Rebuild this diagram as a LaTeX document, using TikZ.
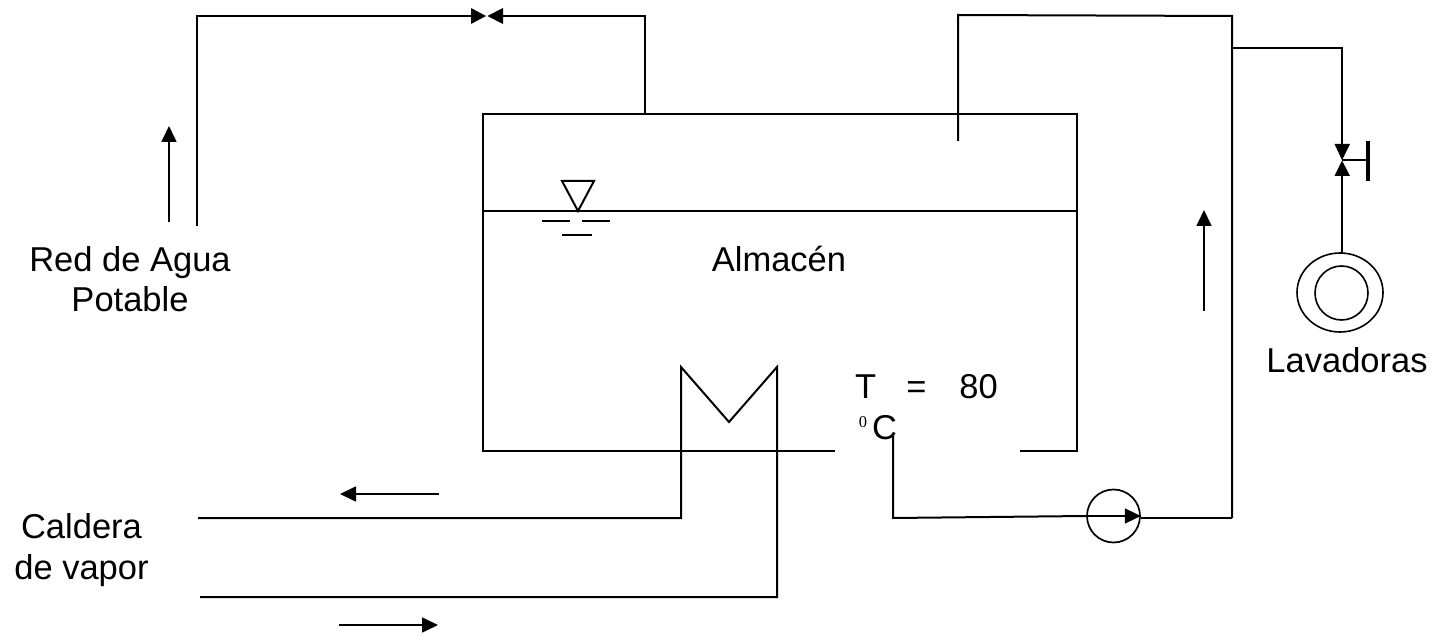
\documentclass[tikz,border=0pt]{standalone}
\usepackage{fontspec}
\setmainfont{Liberation Sans}
\newfontfamily\serifzero{Liberation Serif}
\usetikzlibrary{arrows.meta}
\tikzset{
  pipe/.style={draw=black,line width=2pt,line join=miter},
  thinpipe/.style={draw=black,line width=1.7pt},
  flow/.style={draw=black,line width=1.7pt,-{Triangle[length=16pt,width=15pt]}},
  tip/.style={fill=black,draw=none},
  label/.style={font=\fontsize{34.5}{40}\selectfont,inner sep=0pt,align=center,text=black},
  ring/.style={draw=black,line width=1.6pt}
}
\begin{document}
\begin{tikzpicture}[x=1pt,y=-1pt]
\useasboundingbox (0,0) rectangle (1435,636);
\coordinate (tl) at (483,114); \coordinate (tr) at (1077,114);
\coordinate (bl) at (483,451); \coordinate (br) at (1077,451);
\coordinate (gapL) at (835,451); \coordinate (gapR) at (1020,451);
\coordinate (wl) at (483,211); \coordinate (wr) at (1077,211);
% tank
\draw[pipe] (gapL) -- (bl) -- (tl) -- (tr) -- (br) -- (gapR);
\draw[pipe] (wl) -- (wr);
% level mark
\coordinate (lv) at (578,211);
\draw[pipe,line join=miter] (562,181) -- (594,181) -- (lv) -- cycle;
\coordinate (d1a) at (542,221); \coordinate (d1b) at (570,221);
\coordinate (d2a) at (582,221); \coordinate (d2b) at (610,221);
\coordinate (d3a) at (562,235); \coordinate (d3b) at (592,235);
\draw[thinpipe] (d1a) -- (d1b) (d2a) -- (d2b) (d3a) -- (d3b);
% inlet with valve
\coordinate (inA) at (197,226); \coordinate (inB) at (197,16);
\coordinate (va) at (472,16); \coordinate (vb) at (502,16);
\coordinate (inC) at (645,16); \coordinate (inD) at (645,114);
\draw[pipe] (inA) -- (inB) -- (va);
\draw[pipe] (vb) -- (inC) -- (inD);
\fill[tip] (471,8) -- (471,24) -- (486,16) -- cycle;
\fill[tip] (503,8) -- (503,24) -- (487.5,16) -- cycle;
% outlet
\coordinate (o1) at (958,141); \coordinate (o2) at (958,15);
\coordinate (o3) at (1232,16); \coordinate (o4) at (1232,518);
\coordinate (o5) at (1232,48); \coordinate (o6) at (1342,48);
\coordinate (o7) at (1342,146); \coordinate (o8) at (1342,175);
\draw[pipe] (o1) -- (o2) -- (o3) -- (o4);
\draw[pipe] (o5) -- (o6) -- (o7);
\fill[tip] (1334.5,144) -- (1350,144) -- (1342,160) -- cycle;
\fill[tip] (1334.5,176) -- (1350,176) -- (1342,160.5) -- cycle;
\coordinate (hA) at (1342,160); \coordinate (hB) at (1368,160);
\coordinate (hC) at (1368,141); \coordinate (hD) at (1368,181);
\draw[draw=black,line width=2.6pt] (hA) -- (hB);
\draw[draw=black,line width=3.6pt] (hC) -- (hD);
% washers
\draw[ring] (1340,292.5) ellipse [x radius=43,y radius=39.5];
\draw[ring] (1341.5,293) ellipse [x radius=26.5,y radius=27];
\coordinate (wtop) at (1342,253);
\draw[pipe] (o8) -- (wtop);
% pump
\node[draw=black,line width=1.7pt,circle,minimum size=53pt,inner sep=0pt] (pump) at (1113.5,516) {};
\coordinate (p1) at (893,435); \coordinate (p2) at (893,518);
\draw[pipe] (p1) -- (p2) -- (pump.west);
\draw[flow] (pump.west) -- (pump.east);
\draw[pipe] (pump.east |- o4) -- (o4);
% heat exchanger
\coordinate (h1) at (198,518); \coordinate (h2) at (681,518);
\coordinate (h3) at (681,367); \coordinate (h4) at (729,422);
\coordinate (h5) at (777,367); \coordinate (h6) at (777,597);
\coordinate (h7) at (200,597);
\draw[pipe] (h1) -- (h2) -- (h3) -- (h4) -- (h5) -- (h6) -- (h7);
% direction arrows
\coordinate (a1) at (169,222); \coordinate (a1e) at (169,126);
\coordinate (a2) at (1204,311); \coordinate (a2e) at (1204,210);
\coordinate (a3) at (439,494); \coordinate (a3e) at (340,494);
\coordinate (a4) at (339,625); \coordinate (a4e) at (438,625);
\draw[flow] (a1) -- (a1e);
\draw[flow] (a2) -- (a2e);
\draw[flow] (a3) -- (a3e);
\draw[flow] (a4) -- (a4e);
% labels
\node[label] (red) at (130,279.5) {Red de Agua\\Potable};
\node[label] (alm) at (779,259) {Almacén};
\node[label] (lav) at (1347,360) {Lavadoras};
\node[label] (cal) at (81.5,550.5) {Caldera\\[1pt]de vapor};
\node[label,anchor=base west] (t80) at (855,398) {T\hspace{30pt}=\hspace{33pt}80};
\node[label,anchor=base west] (cel) at (872,439) {C};
\node[anchor=base,inner sep=0pt,font=\serifzero\fontsize{16.5}{18}\selectfont] (zero) at (863,427) {0};
\end{tikzpicture}
\end{document}
